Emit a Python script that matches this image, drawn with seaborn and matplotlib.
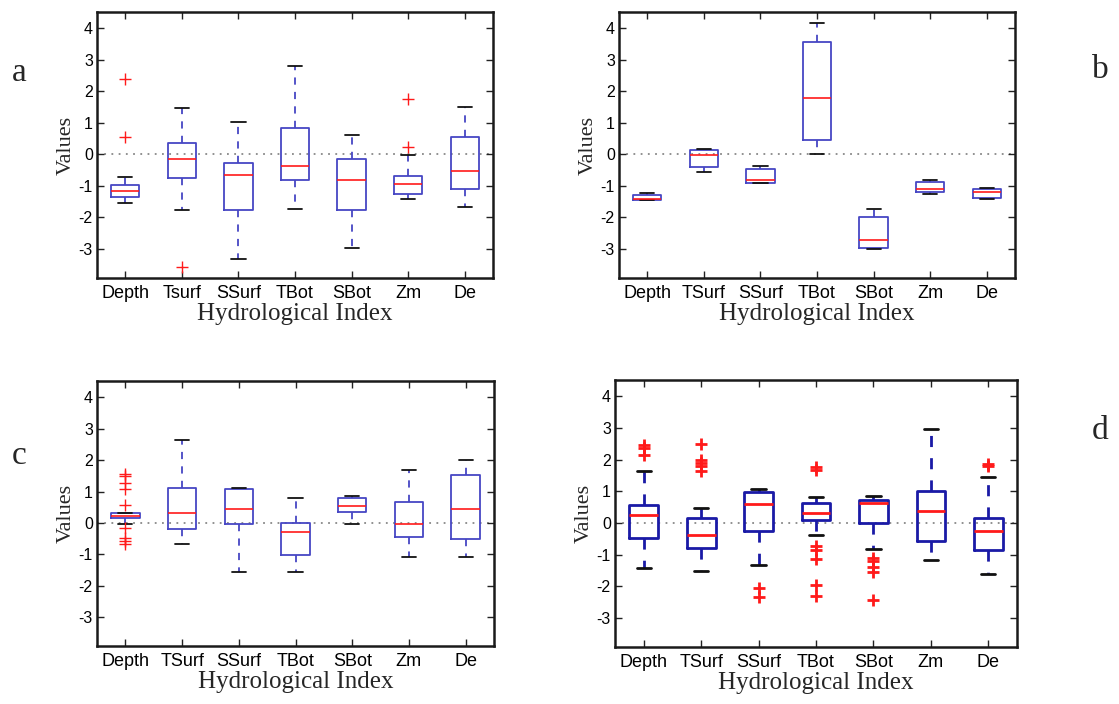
import numpy as np
import pandas as pd
import matplotlib
matplotlib.use("Agg")
import matplotlib.pyplot as plt
import seaborn as sns

# ---------------- data ----------------
cats_a = ["Depth", "Tsurf", "SSurf", "TBot", "SBot", "Zm", "De"]
cats = ["Depth", "TSurf", "SSurf", "TBot", "SBot", "Zm", "De"]
yticks = [-3, -2, -1, 0, 1, 2, 3, 4]

# panel a: five-number summaries (lower whisker, q1, median, q3, upper whisker)
a_low = [-1.54, -1.77, -3.32, -1.74, -2.96, -1.40, -1.67]
a_q1 = [-1.35, -0.76, -1.75, -0.82, -1.77, -1.24, -1.11]
a_med = [-1.16, -0.16, -0.65, -0.36, -0.80, -0.93, -0.52]
a_q3 = [-0.98, 0.37, -0.27, 0.83, -0.13, -0.67, 0.54]
a_high = [-0.71, 1.46, 1.02, 2.82, 0.62, -0.02, 1.50]
a_out_cat = ["Depth", "Depth", "Tsurf", "Zm", "Zm"]
a_out_val = [2.39, 0.54, -3.58, 1.75, 0.23]

# panel b
b_low = [-1.46, -0.55, -0.90, 0.01, -3.00, -1.24, -1.42]
b_q1 = [-1.45, -0.41, -0.90, 0.46, -2.96, -1.20, -1.37]
b_med = [-1.42, -0.02, -0.80, 1.78, -2.71, -1.10, -1.19]
b_q3 = [-1.29, 0.14, -0.47, 3.57, -1.99, -0.88, -1.11]
b_high = [-1.23, 0.18, -0.36, 4.17, -1.74, -0.82, -1.08]
b_out_cat = []
b_out_val = []

# panel c
c_low = [-0.04, -0.68, -1.57, -1.56, -0.03, -1.07, -1.08]
c_q1 = [0.15, -0.20, -0.05, -1.02, 0.34, -0.46, -0.50]
c_med = [0.22, 0.33, 0.44, -0.30, 0.54, -0.05, 0.43]
c_q3 = [0.31, 1.12, 1.08, -0.01, 0.78, 0.68, 1.52]
c_high = [0.31, 2.63, 1.12, 0.79, 0.87, 1.68, 2.00]
c_out_cat = ["Depth"] * 9
c_out_val = [1.56, 1.49, 1.26, 1.07, 0.57, -0.17, -0.49, -0.58, -0.67]

# panel d
d_low = [-1.43, -1.53, -1.32, -0.37, -0.81, -1.17, -1.60]
d_q1 = [-0.47, -0.80, -0.26, 0.10, 0.00, -0.57, -0.86]
d_med = [0.24, -0.39, 0.61, 0.32, 0.62, 0.37, -0.24]
d_q3 = [0.56, 0.16, 0.97, 0.63, 0.74, 1.00, 0.17]
d_high = [1.63, 0.46, 1.08, 0.81, 0.86, 2.98, 1.45]
d_out_cat = (["Depth"] * 3 + ["TSurf"] * 5 + ["SSurf"] * 2 + ["TBot"] * 7
             + ["SBot"] * 5 + ["De"] * 2)
d_out_val = [2.48, 2.37, 2.15,
             2.50, 2.00, 1.89, 1.79, 1.65,
             -2.06, -2.34,
             1.76, 1.68, -0.73, -0.85, -1.14, -1.95, -2.30,
             -1.11, -1.21, -1.39, -1.54, -2.42,
             1.86, 1.81]

# ---------------- style ----------------
sns.set_style("ticks")
plt.rcParams["font.family"] = ["Liberation Sans", "DejaVu Sans"]

W, H = 1119, 704
fig = plt.figure(figsize=(W / 100, H / 100), dpi=100)


def axes_px(left, top, right, bottom):
    return fig.add_axes([left / W, 1 - bottom / H, (right - left) / W, (bottom - top) / H])


panels = [
    dict(box=(97, 12, 493, 278), cats=cats_a, low=a_low, q1=a_q1, med=a_med, q3=a_q3, high=a_high,
         oc=a_out_cat, ov=a_out_val, letter="a", lpos=(19, 73), bold=False),
    dict(box=(619, 12, 1015, 278), cats=cats, low=b_low, q1=b_q1, med=b_med, q3=b_q3, high=b_high,
         oc=b_out_cat, ov=b_out_val, letter="b", lpos=(1100, 70), bold=False),
    dict(box=(97, 381, 494, 646), cats=cats, low=c_low, q1=c_q1, med=c_med, q3=c_q3, high=c_high,
         oc=c_out_cat, ov=c_out_val, letter="c", lpos=(19, 456), bold=False),
    dict(box=(615, 380, 1017, 647), cats=cats, low=d_low, q1=d_q1, med=d_med, q3=d_q3, high=d_high,
         oc=d_out_cat, ov=d_out_val, letter="d", lpos=(1100, 431), bold=True),
]

for p in panels:
    ax = axes_px(*p["box"])
    rows = []
    for i, c in enumerate(p["cats"]):
        for v in (p["low"][i], p["q1"][i], p["med"][i], p["q3"][i], p["high"][i]):
            rows.append((c, v))
    df = pd.DataFrame(rows, columns=["Index", "Value"])

    if p["bold"]:
        blue, lw, mlw = "#1a1aa6", 2.0, 2.0
    else:
        blue, lw, mlw = "#4646c4", 1.3, 1.2

    ax.axhline(0, color="#888888", linestyle=(0, (1, 3)), linewidth=1.3, zorder=0)

    sns.boxplot(data=df, x="Index", y="Value", order=p["cats"], whis=(0, 100), width=0.5,
                fill=False, showfliers=False, ax=ax,
                boxprops=dict(color=blue, linewidth=lw),
                whiskerprops=dict(color=blue, linewidth=lw, linestyle=(0, (4, 4))),
                capprops=dict(color="#111111", linewidth=lw),
                medianprops=dict(color="#ff1a1a", linewidth=mlw))

    if len(p["ov"]) > 0:
        sns.stripplot(x=p["oc"], y=p["ov"], order=p["cats"], jitter=False, marker="+",
                      color="#ff1a1a", size=9, linewidth=2.0 if p["bold"] else 1.0, ax=ax,
                      zorder=5)

    ax.set_xlim(-0.5, len(p["cats"]) - 0.5)
    ax.set_ylim(-3.92, 4.52)
    ax.set_yticks(yticks)
    ax.set_yticklabels([str(t) for t in yticks])
    ax.tick_params(direction="in", top=True, right=True, length=5, width=1, colors="#222222",
                   labelcolor="black")
    ax.tick_params(axis="x", labelsize=13, pad=5)
    ax.tick_params(axis="y", labelsize=11.5, pad=3)
    for s in ax.spines.values():
        s.set_linewidth(1.8)
        s.set_color("#1a1a1a")
        s.set_visible(True)
    ax.set_ylabel("Values", family=["Liberation Serif", "DejaVu Serif"], fontsize=16, labelpad=2)
    ax.set_xlabel("Hydrological Index", family=["Liberation Serif", "DejaVu Serif"], fontsize=18,
                  labelpad=1)
    fig.text(p["lpos"][0] / W, 1 - p["lpos"][1] / H, p["letter"],
             family=["Liberation Serif", "DejaVu Serif"], fontsize=24, ha="center", va="center")

fig.savefig("out.png", dpi=100)
